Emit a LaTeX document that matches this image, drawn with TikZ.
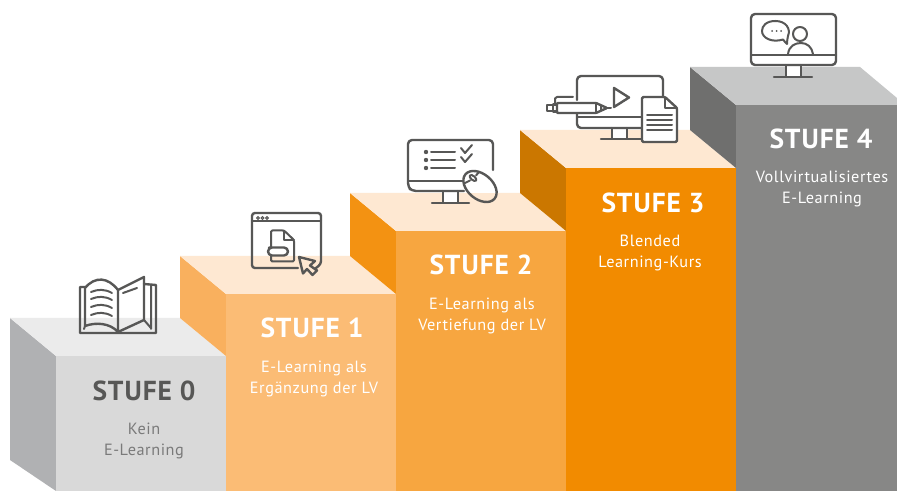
\documentclass[tikz,border=0pt]{standalone}
\usepackage{fontspec}
\setmainfont{PT Sans}
\newfontfamily\titlefont[LetterSpace=3.5]{PT Sans Bold}
\newfontfamily\bodyfont[LetterSpace=3.5]{PT Sans}
\definecolor{ink}{HTML}{575756}
\definecolor{bodygrey}{HTML}{7A7A7A}
\definecolor{peach}{HTML}{FEE8D2}
\tikzset{
  icon/.style={draw=ink,line width=1.8pt,line cap=round,line join=round},
  thin icon/.style={draw=ink,line width=1.5pt,line cap=round,line join=round},
  title/.style={font=\titlefont\fontsize{20.6}{21}\selectfont,anchor=center,inner sep=0pt},
  desc/.style={font=\bodyfont\fontsize{12.2}{15.75}\selectfont,align=center,anchor=center,inner sep=0pt},
}
\begin{document}
\begin{tikzpicture}[x=0.75pt,y=-0.75pt]
\useasboundingbox (0,0) rectangle (897,491);
% step 0
\fill[fill=white] (0,0) rectangle (897,491);
\fill[fill={rgb,255:red,176;green,177;blue,179}] (10,318)--(56,356)--(56,491)--(10,460)--cycle;
\fill[fill={rgb,255:red,235;green,235;blue,235}] (10,318)--(180,318)--(226,356)--(56,356)--cycle;
\fill[fill={rgb,255:red,217;green,217;blue,217}] (56,356) rectangle (226,491);
% step 1
\fill[fill={rgb,255:red,249;green,176;blue,94}] (180,256)--(226,294)--(226,356)--(180,318)--cycle;
\fill[fill=peach] (180,256)--(350,256)--(396,294)--(226,294)--cycle;
\fill[fill={rgb,255:red,251;green,188;blue,117}] (226,294) rectangle (396,491);
% step 2
\fill[fill={rgb,255:red,243;green,146;blue,18}] (350,193)--(396,231)--(396,294)--(350,256)--cycle;
\fill[fill=peach] (350,193)--(520,193)--(566,231)--(396,231)--cycle;
\fill[fill={rgb,255:red,247;green,166;blue,64}] (396,231) rectangle (566,491);
% step 3
\fill[fill={rgb,255:red,203;green,119;blue,0}] (520,130)--(566,168)--(566,231)--(520,193)--cycle;
\fill[fill=peach] (520,130)--(690,130)--(736,168)--(566,168)--cycle;
\fill[fill={rgb,255:red,242;green,139;blue,0}] (566,168) rectangle (736,491);
% step 4
\fill[fill={rgb,255:red,111;green,111;blue,110}] (690,67)--(736,105)--(736,168)--(690,130)--cycle;
\fill[fill={rgb,255:red,198;green,199;blue,199}] (690,67)--(860,67)--(897,98)--(897,105)--(736,105)--cycle;
\fill[fill={rgb,255:red,135;green,135;blue,134}] (736,105) rectangle (897,491);

% labels
\node[title,text=ink] (t0) at (144,391) {STUFE 0};
\node[desc,text=bodygrey] (d0) at (144,441) {Kein\\E-Learning};
\node[title,text=white] (t1) at (312,328) {STUFE 1};
\node[desc,text=white] (d1) at (314,379) {E-Learning als\\Ergänzung der LV};
\node[title,text=white] (t2) at (481,265) {STUFE 2};
\node[desc,text=white] (d2) at (482,316) {E-Learning als\\Vertiefung der LV};
\node[title,text=white] (t3) at (653,203) {STUFE 3};
\node[desc,text=white] (d3) at (650,253) {Blended\\Learning-Kurs};
\node[title,text=white] (t4) at (821,139) {STUFE 4};
\node[desc,text=white] (d4) at (822,189) {Vollvirtualisiertes\\E-Learning};

% book icon
\draw[icon] (118,332)--(118,290) .. controls (108,277) and (95,276) .. (85,288)--(85,326) .. controls (96,322) and (110,323) .. (118,332)--(144,320)--(144,277)--(118,290);
\draw[icon] (85,287)--(80,287)--(80,333)--(156,333)--(156,285)--(144,284);
\draw[thin icon] (151,285)--(151,329) (85,326)--(84,329);
\draw[thin icon] (144,320)--(151,328);
\draw[thin icon] (91,292) .. controls (98,289) and (105,289) .. (112,293);
\draw[thin icon] (91,299) .. controls (98,296) and (105,296) .. (112,300);
\draw[thin icon] (91,307) .. controls (98,304) and (105,304) .. (112,308);
\draw[thin icon] (91,315) .. controls (98,312) and (105,312) .. (112,316);
\draw[thin icon] (123,293)--(137,288);

% browser icon
\draw[icon,rounded corners=2.2pt] (298,268)--(252,268)--(252,213)--(321,213)--(321,264)--(316,268);
\draw[thin icon] (252,221.5)--(321,221.5);
\foreach \xx in {258,262.5,267} \draw[ink,line width=0.7pt] (\xx,218) circle (1.4);
\draw[thin icon,rounded corners=1pt] (271,247)--(271,230.5)--(284,230.5)--(294,240)--(294,261.5)--(271,261.5)--(271,256);
\draw[thin icon] (284,230.5)--(284,240)--(294,240);
\draw[icon,rounded corners=3pt] (273,247.5)--(288,247.5)--(288,255.5)--(268,255.5)--(268,247.5)--cycle;
\draw[icon] (299,257)--(315,261)--(310,265.5)--(317,270.5)--(312.5,275)--(307,269)--(303,273.5)--cycle;

% monitor with list and mouse
\fill[white] (443,191) rectangle (458,203);
\draw[icon,rounded corners=3pt] (408,181)--(408,140)--(493,140)--(493,170) (464,191)--(412,191)--(408,187)--(408,181);
\draw[thin icon] (408,181)--(464,181);
\draw[thin icon] (443,191)--(443,203) (458,191)--(458,203);
\draw[icon] (432,203)--(469,203);
\foreach \yy in {152,160,168} {\fill[ink] (426,\yy) circle (2.2); \draw[thin icon] (431,\yy)--(455,\yy);}
\draw[thin icon] (461,148)--(465,153)--(472,145);
\draw[thin icon] (461,157)--(465,162)--(472,154);
\begin{scope}
\clip[rotate around={-40:(480,186.5)}] (480,186.5) ellipse (19 and 12.5);
\fill[white] (455,165) rectangle (505,193);
\fill[peach] (455,193) rectangle (505,210);
\end{scope}
\draw[icon,rotate around={-40:(480,186.5)}] (480,186.5) ellipse (19 and 12.5);
\draw[thin icon,rotate around={-40:(473,178)}] (473,178) ellipse (4 and 2);
\draw[thin icon] (465,183)--(470,180.5) (476,175.5)--(479,172);

% monitor with video, pen and document
\fill[white] (612,128) rectangle (627,139);
\draw[icon,rounded corners=3pt] (577,100)--(577,76)--(663,76)--(663,97) (577,114)--(577,128)--(642,128);
\draw[thin icon] (577,117)--(642,117);
\draw[thin icon] (612,128)--(612,139) (627,128)--(627,139);
\draw[icon] (601,139)--(642,139);
\draw[icon] (614,88)--(614,107)--(629,97.5)--cycle;
\draw[icon,fill=white,rounded corners=0.6pt] (557,103)--(596,103)--(607,108)--(596,113)--(557,113)--cycle;
\draw[thin icon] (596,103)--(596,113) (601,105.5)--(601,110.5);
\draw[thin icon] (607,108)--(611,108);
\draw[icon] (557,104.5)--(553,104.5)--(553,111.5)--(557,111.5) (553,105)--(547,105)--(547,111)--(553,111);
\draw[thin icon] (555,103)--(555,98.5)--(557,97)--(573,97);
\draw[icon,fill=white,rounded corners=1pt] (642,97)--(665,97)--(677,108)--(677,142)--(642,142)--cycle;
\draw[thin icon] (665,97)--(665,108)--(677,108);
\foreach \yy in {115,120,125,130} \draw[thin icon] (647,\yy)--(672,\yy);

% monitor with speaker
\fill[white] (786,65) rectangle (801,77);
\draw[icon,rounded corners=3pt] (751,55)--(751,14)--(836,14)--(836,65)--(751,65)--cycle;
\draw[thin icon] (751,55)--(836,55);
\draw[thin icon] (786,65)--(786,77) (801,65)--(801,77);
\draw[icon] (774,77)--(812,77);
\draw[thin icon] (783,39.5) .. controls (784,41) and (786,43) .. (787,44) .. controls (787,41) and (787.5,38) .. (788,36)
  .. controls (791,29) and (786,21) .. (775.5,21) .. controls (766,21) and (762,26) .. (762,31) .. controls (762,38) and (772,43) .. (783,39.5)--cycle;
\foreach \xx in {772,776.5,781} \fill[ink] (\xx,31) circle (1);
\draw[thin icon] (800,34) circle (7);
\draw[thin icon] (788,54) .. controls (789,46) and (795,43) .. (801,43) .. controls (807,43) and (812,47) .. (813,54);
\end{tikzpicture}
\end{document}
